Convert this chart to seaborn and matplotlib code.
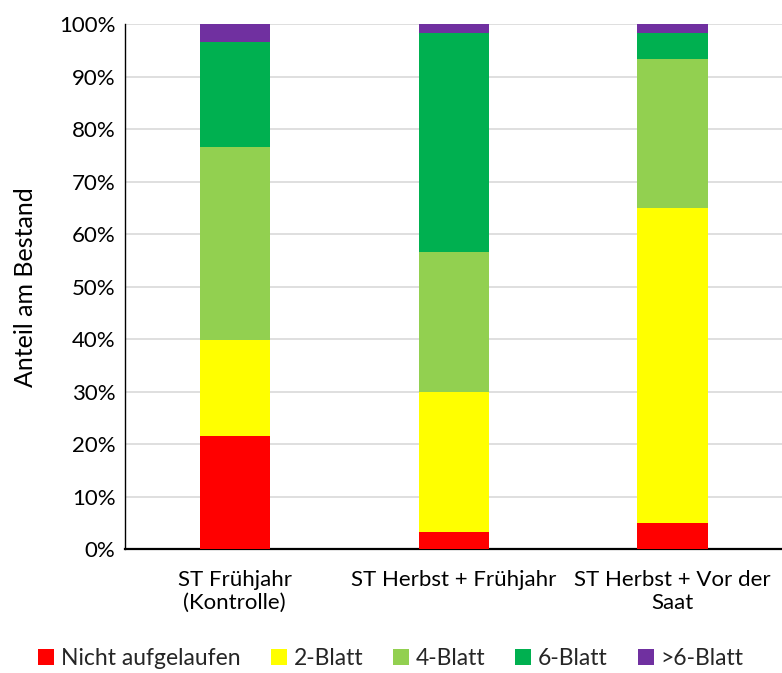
import numpy as np
import pandas as pd
import seaborn as sns
import matplotlib
matplotlib.use('Agg')
import matplotlib.pyplot as plt
from matplotlib.patches import Patch
from matplotlib.ticker import PercentFormatter

# Data (share of stand in %)
treatments = ['ST Frühjahr\n(Kontrolle)', 'ST Herbst + Frühjahr', 'ST Herbst + Vor der\nSaat']
stages = ['Nicht aufgelaufen', '2-Blatt', '4-Blatt', '6-Blatt', '>6-Blatt']
nicht_aufgelaufen = [21.5, 3.2, 4.9]
blatt_2 = [18.4, 26.7, 60.1]
blatt_4 = [36.7, 26.7, 28.4]
blatt_6 = [20.0, 41.8, 5.0]
blatt_gt6 = [3.4, 1.6, 1.6]
colors = ['#FF0000', '#FFFF00', '#92D050', '#00B050', '#7030A0']

sns.set_theme(style='white')
plt.rcParams['font.family'] = ['Lato', 'DejaVu Sans']

df = pd.DataFrame({
    'Behandlung': treatments,
    stages[0]: nicht_aufgelaufen,
    stages[1]: blatt_2,
    stages[2]: blatt_4,
    stages[3]: blatt_6,
    stages[4]: blatt_gt6,
})
# cumulative heights so bars can be layered from the top segment down
cum = df[stages].cumsum(axis=1)

fig, ax = plt.subplots(figsize=(7.82, 6.73), dpi=100)
fig.subplots_adjust(left=0.16, right=1.0, top=0.964, bottom=0.184)

for stage, col in reversed(list(zip(stages, colors))):
    sns.barplot(x=df['Behandlung'], y=cum[stage], color=col, width=0.32,
                saturation=1, ax=ax, zorder=3, linewidth=0)

ax.set_ylim(0, 100)
ax.set_xlim(-0.5, 2.5)
ax.set_yticks(np.arange(0, 101, 10))
ax.yaxis.set_major_formatter(PercentFormatter(decimals=0))
ax.yaxis.grid(True, color='#d9d9d9', linewidth=1.2, zorder=0)
ax.set_axisbelow(True)
ax.set_xlabel('')
ax.set_ylabel('Anteil am Bestand', fontsize=18, color='black', labelpad=16)
ax.tick_params(axis='both', labelsize=16, colors='black', length=0, pad=7)
ax.tick_params(axis='x', pad=15)

for s in ['top', 'right']:
    ax.spines[s].set_visible(False)
ax.spines['left'].set_color('black')
ax.spines['left'].set_linewidth(1.0)
ax.spines['bottom'].set_color('black')
ax.spines['bottom'].set_linewidth(1.6)

handles = [Patch(facecolor=c, edgecolor='none', label=s) for s, c in zip(stages, colors)]
fig.legend(handles=handles, loc='lower center', ncol=5, frameon=False,
           fontsize=16.5, handlelength=0.7, handleheight=0.7, handletextpad=0.3,
           columnspacing=1.3, bbox_to_anchor=(0.5, -0.025))

fig.savefig('out.png', dpi=100)
